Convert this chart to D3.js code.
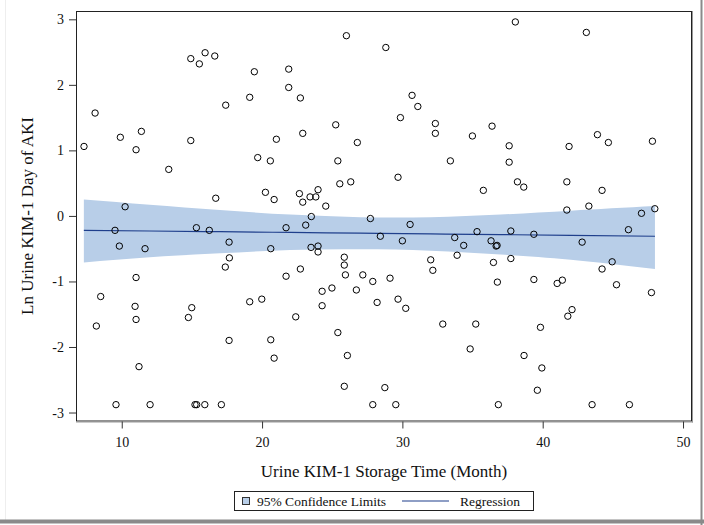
<!DOCTYPE html>
<html>
<head>
<meta charset="utf-8">
<script src="https://cdn.jsdelivr.net/npm/d3@7"></script>
<style>
  html, body { margin: 0; padding: 0; background: #fff; }
  svg { display: block; font-family: "Liberation Serif", "Times New Roman", serif; }
</style>
</head>
<body>
<svg id="chart" width="704" height="525"></svg>
<script>
// ---- data ----
const storageMonths = [
  7.31, 8.10, 9.90, 11.40, 11.02, 13.35, 14.92, 14.92, 15.53, 15.94, 16.63, 17.41, 19.12, 19.45, 21.90, 21.90,
  21.02, 19.69, 20.59, 20.24, 20.86, 16.70, 10.24, 26.01, 28.82, 22.73, 22.90, 25.25, 26.79, 25.40, 25.54, 26.32,
  29.69, 30.69, 31.10, 29.86, 32.35, 32.35, 33.42, 34.99, 36.39, 35.77, 22.66, 22.90, 23.42, 23.83, 23.99, 24.54,
  23.51, 27.72, 38.05, 43.11, 43.90, 44.68, 47.82, 37.61, 41.88, 37.61, 38.20, 38.65, 41.72, 44.23, 41.72, 43.29,
  47.04, 47.99, 9.52, 9.83, 11.66, 15.32, 16.24, 17.65, 20.62, 21.71, 17.67, 17.38, 11.02, 21.71, 8.50, 10.95,
  11.02, 8.19, 14.99, 14.75, 19.12, 19.98, 17.65, 20.62, 20.86, 11.23, 9.59, 12.02, 15.22, 15.34, 15.92, 17.10,
  23.11, 30.55, 28.43, 30.00, 23.49, 23.99, 23.99, 22.73, 25.86, 25.86, 25.94, 27.18, 27.89, 29.12, 24.98, 24.28,
  26.72, 24.28, 28.20, 29.69, 30.24, 22.40, 25.40, 26.08, 25.86, 28.75, 27.89, 29.53, 32.02, 32.17, 32.88, 35.23,
  34.83, 33.73, 34.37, 33.90, 35.32, 36.32, 36.68, 36.75, 36.49, 36.77, 36.84, 37.73, 37.73, 39.37, 39.37, 46.11,
  42.81, 44.95, 44.23, 41.03, 41.40, 45.26, 47.75, 42.09, 41.79, 39.84, 38.67, 39.94, 39.62, 43.52, 46.18
];
const lnKim1 = [
  1.06, 1.57, 1.20, 1.29, 1.01, 0.71, 1.15, 2.40, 2.32, 2.49, 2.44, 1.69, 1.81, 2.20, 2.24, 1.96,
  1.17, 0.89, 0.84, 0.36, 0.25, 0.27, 0.14, 2.75, 2.57, 1.80, 1.26, 1.39, 1.12, 0.84, 0.49, 0.52,
  0.59, 1.84, 1.67, 1.50, 1.41, 1.26, 0.84, 1.22, 1.37, 0.39, 0.34, 0.21, 0.29, 0.29, 0.40, 0.15,
  -0.01, -0.04, 2.96, 2.80, 1.24, 1.12, 1.14, 1.07, 1.06, 0.82, 0.52, 0.44, 0.52, 0.39, 0.09, 0.15,
  0.04, 0.11, -0.22, -0.46, -0.50, -0.18, -0.22, -0.40, -0.50, -0.18, -0.64, -0.78, -0.94, -0.92, -1.23, -1.38,
  -1.58, -1.68, -1.40, -1.55, -1.31, -1.27, -1.90, -1.89, -2.17, -2.30, -2.88, -2.88, -2.88, -2.88, -2.88, -2.88,
  -0.14, -0.13, -0.31, -0.38, -0.48, -0.46, -0.55, -0.81, -0.63, -0.75, -0.90, -0.90, -1.00, -0.95, -1.10, -1.15,
  -1.13, -1.37, -1.32, -1.27, -1.41, -1.54, -1.78, -2.13, -2.60, -2.62, -2.88, -2.88, -0.67, -0.83, -1.65, -1.65,
  -2.03, -0.33, -0.45, -0.60, -0.24, -0.38, -0.46, -0.45, -0.71, -1.01, -2.88, -0.23, -0.65, -0.28, -0.97, -0.21,
  -0.40, -0.70, -0.81, -1.03, -0.98, -1.05, -1.17, -1.43, -1.53, -1.70, -2.13, -2.32, -2.66, -2.88, -2.88
];
// regression fit and 95% confidence limits
const fitX     = [7.3, 12, 17, 22, 27, 32, 37, 42, 48];
const fitY     = [-0.220, -0.230, -0.241, -0.252, -0.263, -0.274, -0.285, -0.296, -0.310];
const clUpper  = [0.25, 0.17, 0.09, 0.02, -0.02, -0.02, 0.02, 0.08, 0.15];
const clLower  = [-0.71, -0.63, -0.57, -0.52, -0.51, -0.53, -0.59, -0.67, -0.81];
const xTicks = [10, 20, 30, 40, 50];
const yTicks = [-3, -2, -1, 0, 1, 2, 3];
const xTitle = "Urine KIM-1 Storage Time (Month)";
const yTitle = "Ln Urine KIM-1 Day of AKI";
const legendLabels = ["95% Confidence Limits", "Regression"];

// ---- layout ----
const svg = d3.select("#chart");
const L = 76, R = 692, T = 11, B = 421.5;
const bandColor = "#b8cee8", lineColor = "#1f3f8c";

const x = d3.scaleLinear().domain([6.74, 50.64]).range([L, R]);
const y = d3.scaleLinear().domain([-3.137, 3.127]).range([B, T]);

// outer frame
svg.append("line").attr("x1", 5.5).attr("x2", 5.5).attr("y1", 0).attr("y2", 520).attr("stroke", "#eeeeee");
svg.append("line").attr("x1", 701.5).attr("x2", 701.5).attr("y1", 0).attr("y2", 525).attr("stroke", "#8a8a8a").attr("stroke-width", 2);
svg.append("line").attr("x1", 0).attr("x2", 704).attr("y1", 521.5).attr("y2", 521.5).attr("stroke", "#8a8a8a").attr("stroke-width", 4);

// confidence band
const bandData = fitX.map((d, i) => ({x: d, lo: clLower[i], hi: clUpper[i], f: fitY[i]}));
svg.append("path").datum(bandData)
  .attr("d", d3.area().x(d => x(d.x)).y0(d => y(d.lo)).y1(d => y(d.hi)).curve(d3.curveNatural))
  .attr("fill", bandColor);

// regression line
svg.append("path").datum(bandData)
  .attr("d", d3.line().x(d => x(d.x)).y(d => y(d.f)).curve(d3.curveNatural))
  .attr("fill", "none").attr("stroke", lineColor).attr("stroke-width", 1.2);

// points
svg.append("g").selectAll("circle").data(storageMonths.map((d, i) => [d, lnKim1[i]]))
  .join("circle")
  .attr("cx", d => x(d[0])).attr("cy", d => y(d[1])).attr("r", 3.2)
  .attr("fill", "none").attr("stroke", "#000").attr("stroke-width", 1);

// plot frame
svg.append("rect").attr("x", L + 0.5).attr("y", T + 0.5).attr("width", R - L - 1).attr("height", B - T - 1)
  .attr("fill", "none").attr("stroke", "#222").attr("stroke-width", 1);
svg.append("line").attr("x1", R + 0.5).attr("x2", R + 0.5).attr("y1", T).attr("y2", B + 1).attr("stroke", "#999");
svg.append("line").attr("x1", L).attr("x2", R + 1).attr("y1", B + 0.5).attr("y2", B + 0.5).attr("stroke", "#999");

// axes
const xAxis = svg.append("g").attr("transform", `translate(0,${B})`)
  .call(d3.axisBottom(x).tickValues(xTicks).tickSize(7).tickPadding(9).tickFormat(d3.format("d")));
const yAxis = svg.append("g").attr("transform", `translate(${L},0)`)
  .call(d3.axisLeft(y).tickValues(yTicks).tickSize(7).tickPadding(5).tickFormat(d => String(d).replace("\u2212", "-")));
[xAxis, yAxis].forEach(g => {
  g.select(".domain").remove();
  g.selectAll(".tick line").attr("stroke", "#333");
  g.selectAll(".tick text").attr("font-family", "Liberation Serif").attr("font-size", 14).attr("fill", "#111");
});

// titles
svg.append("text").attr("x", 384).attr("y", 477).attr("text-anchor", "middle")
  .attr("font-size", 17).attr("fill", "#111").text(xTitle);
svg.append("text").attr("transform", "translate(33,216) rotate(-90)").attr("text-anchor", "middle")
  .attr("font-size", 17).attr("fill", "#111").text(yTitle);

// legend
const lg = svg.append("g");
lg.append("rect").attr("x", 234.5).attr("y", 491.5).attr("width", 299).attr("height", 19)
  .attr("fill", "#fff").attr("stroke", "#222");
lg.append("rect").attr("x", 242.5).attr("y", 497.5).attr("width", 7).attr("height", 7)
  .attr("fill", bandColor).attr("stroke", "#333");
lg.append("text").attr("x", 257).attr("y", 506).attr("font-size", 13.5).attr("fill", "#111").text(legendLabels[0]);
lg.append("line").attr("x1", 402).attr("x2", 449).attr("y1", 501).attr("y2", 501).attr("stroke", lineColor).attr("stroke-width", 1.2);
lg.append("text").attr("x", 460).attr("y", 506).attr("font-size", 13.5).attr("fill", "#111").text(legendLabels[1]);
</script>
</body>
</html>
